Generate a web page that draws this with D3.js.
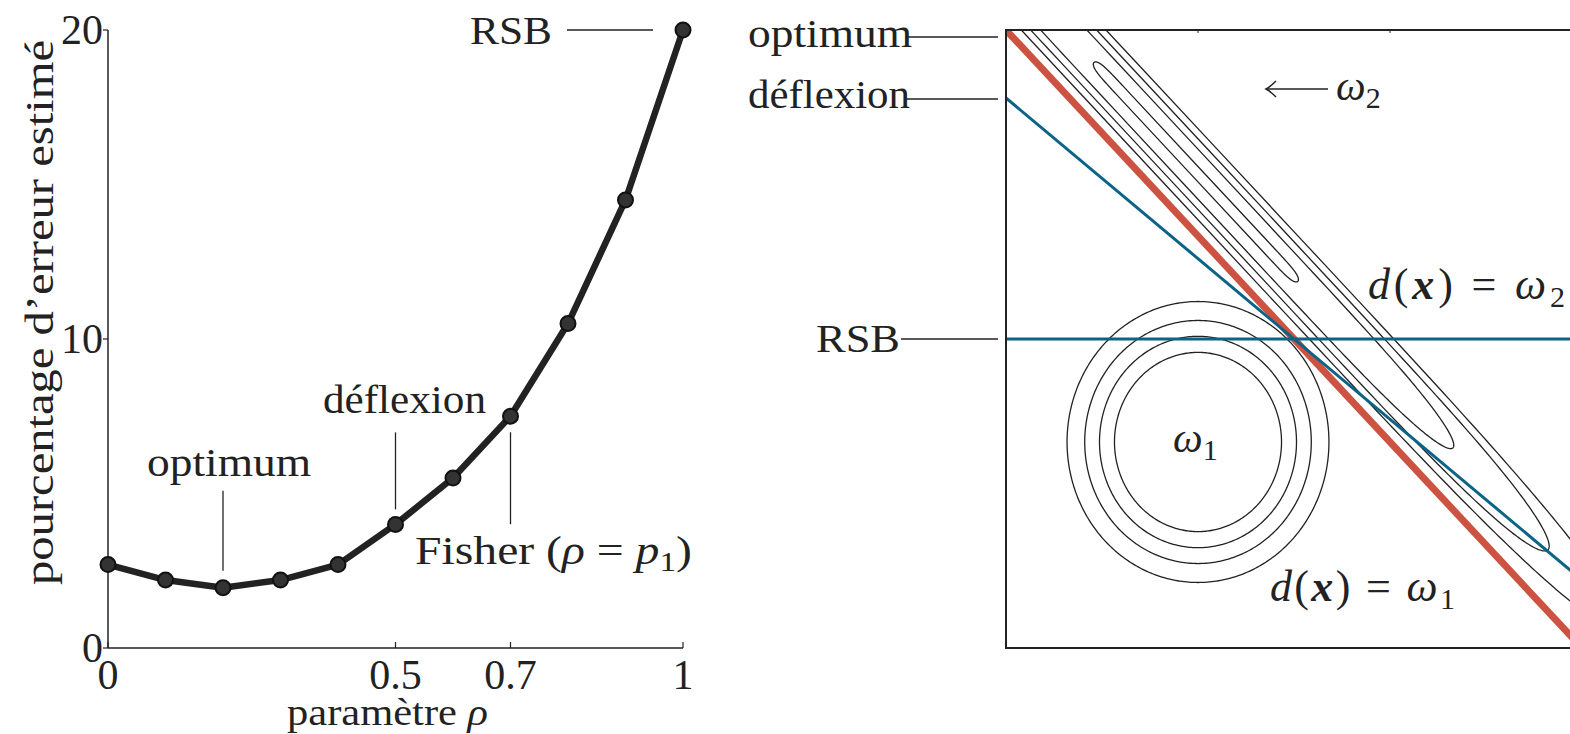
<!DOCTYPE html>
<html>
<head>
<meta charset="utf-8">
<script src="https://cdn.jsdelivr.net/npm/d3@7"></script>
<style>
  body { margin: 0; background: #fff; }
  svg { display: block; }
  text { font-family: "Liberation Serif", "DejaVu Serif", serif; fill: #222; }
</style>
</head>
<body>
<script>
// left panel data
const rho = [0, 0.1, 0.2, 0.3, 0.4, 0.5, 0.6, 0.7, 0.8, 0.9, 1];
const erreur = [2.7, 2.2, 1.95, 2.2, 2.7, 4.0, 5.5, 7.5, 10.5, 14.5, 20];
const xTicks = [0, 0.5, 0.7, 1];
const yTicks = [0, 10, 20];
const marks = [
  { name: "optimum", rho: 0.2 },
  { name: "déflexion", rho: 0.5 },
  { name: "Fisher", rho: 0.7 },
  { name: "RSB", rho: 1 }
];

// right panel data (feature space)
const w1Centre = [1, 1];
const w1Rayons = [0.435, 0.513, 0.59, 0.682];
const w2Axe = 3.30;            // u + v along the long axis
const w2Centres = [0.989, 0.989, 0.989, 0.989];
const w2Longueurs = [0.531, 1.339, 1.834, 2.21];
const w2Largeurs = [0.0375, 0.1215, 0.172, 0.221];
const w2Formes = [20, 6, 6, 5];
const frontieres = [
  { name: "optimum", v0: 3.0, pente: -1 },
  { name: "déflexion", v0: 2.67, pente: -0.78 },
  { name: "RSB", v0: 1.5, pente: 0 }
];

const rouge = "#cc5241", bleu = "#0b6386", encre = "#222";

const svg = d3.select("body").append("svg")
  .attr("width", 1570).attr("height", 734);

function texte(g, xx, yy, taille, largeur, mode) {
  const t = g.append("text").attr("x", xx).attr("y", yy).attr("font-size", taille);
  if (largeur) t.attr("textLength", largeur).attr("lengthAdjust", mode || "spacingAndGlyphs");
  return t;
}

// ---------- left panel ----------
const x = d3.scaleLinear().domain([0, 1]).range([108, 683]);
const y = d3.scaleLinear().domain([0, 20]).range([648, 30]);

const gL = svg.append("g");
gL.append("line").attr("x1", x(0)).attr("x2", x(1)).attr("y1", y(0)).attr("y2", y(0))
  .attr("stroke", encre).attr("stroke-width", 1.5);
gL.append("line").attr("x1", x(0)).attr("x2", x(0)).attr("y1", y(0)).attr("y2", y(20))
  .attr("stroke", encre).attr("stroke-width", 1.5);

gL.selectAll(".xt").data(xTicks).join("line")
  .attr("x1", d => x(d)).attr("x2", d => x(d)).attr("y1", y(0)).attr("y2", y(0) - 6)
  .attr("stroke", encre).attr("stroke-width", 1.2);
gL.selectAll(".xl").data(xTicks).join("text")
  .attr("x", d => x(d)).attr("y", 689).attr("text-anchor", "middle")
  .attr("font-size", 42).text(d => d);

gL.selectAll(".yt").data(yTicks).join("line")
  .attr("x1", x(0) - 5).attr("x2", x(0)).attr("y1", d => y(d)).attr("y2", d => y(d))
  .attr("stroke", encre).attr("stroke-width", 1.2);
gL.selectAll(".yl").data(yTicks).join("text")
  .attr("x", 103).attr("y", d => y(d) + 14).attr("text-anchor", "end")
  .attr("font-size", 42).text(d => d);

texte(gL, 287, 725, 38, 201)
  .call(t => { t.append("tspan").text("paramètre "); t.append("tspan").attr("font-style", "italic").text("ρ"); });
texte(gL, 0, 0, 40, 545).attr("transform", "translate(53,585) rotate(-90)")
  .text("pourcentage d’erreur estimé");

const pts = rho.map((r, i) => [r, erreur[i]]);
gL.append("path").datum(pts)
  .attr("d", d3.line().x(d => x(d[0])).y(d => y(d[1])))
  .attr("fill", "none").attr("stroke", encre).attr("stroke-width", 6.5).attr("stroke-linejoin", "round");
gL.selectAll(".pt").data(pts).join("circle")
  .attr("cx", d => x(d[0])).attr("cy", d => y(d[1])).attr("r", 7.5)
  .attr("fill", "#333").attr("stroke", "#111").attr("stroke-width", 2);

// annotations
const errAt = r => erreur[rho.indexOf(r)];
marks.forEach(m => {
  const px = x(m.rho), py = y(errAt(m.rho));
  if (m.name === "optimum") {
    gL.append("line").attr("x1", px).attr("x2", px).attr("y1", py - 17).attr("y2", py - 97)
      .attr("stroke", encre).attr("stroke-width", 1.3);
    texte(gL, 147, py - 112, 40, 164).text(m.name);
  } else if (m.name === "déflexion") {
    gL.append("line").attr("x1", px).attr("x2", px).attr("y1", py - 15).attr("y2", py - 92)
      .attr("stroke", encre).attr("stroke-width", 1.3);
    texte(gL, 323, py - 111, 40, 163).text(m.name);
  } else if (m.name === "Fisher") {
    gL.append("line").attr("x1", px).attr("x2", px).attr("y1", py + 16).attr("y2", py + 108)
      .attr("stroke", encre).attr("stroke-width", 1.3);
    const t = texte(gL, 415, py + 148, 40, 277);
    t.append("tspan").text("Fisher (");
    t.append("tspan").attr("font-style", "italic").text("ρ");
    t.append("tspan").text(" = ");
    t.append("tspan").attr("font-style", "italic").text("p");
    t.append("tspan").attr("font-size", 28).attr("dy", 7).text("1");
    t.append("tspan").attr("dy", -7).text(")");
  } else {
    gL.append("line").attr("x1", px - 30).attr("x2", px - 116).attr("y1", py).attr("y2", py)
      .attr("stroke", encre).attr("stroke-width", 1.3);
    texte(gL, 470, py + 14, 41, 82).text(m.name);
  }
});

// ---------- right panel ----------
const u = d3.scaleLinear().domain([0, 3]).range([1006, 1582]);
const v = d3.scaleLinear().domain([0, 3]).range([648, 30]);
const uMax = 3.22;

svg.append("clipPath").attr("id", "boite").append("rect")
  .attr("x", u(0)).attr("y", v(3)).attr("width", u(uMax) - u(0)).attr("height", v(0) - v(3));

const gR = svg.append("g").attr("clip-path", "url(#boite)");
const trace = d3.line().x(d => u(d[0])).y(d => v(d[1])).curve(d3.curveLinearClosed);
const angles = d3.range(0, 2 * Math.PI, Math.PI / 180);

// classe omega 1
gR.selectAll(".c1").data(w1Rayons).join("path")
  .attr("d", r => trace(angles.map(a => [w1Centre[0] + r * Math.cos(a), w1Centre[1] + r * Math.sin(a)])))
  .attr("fill", "none").attr("stroke", encre).attr("stroke-width", 1.3);

// classe omega 2 : ellipses allongées
gR.selectAll(".c2").data(w2Longueurs).join("path")
  .attr("d", (a, i) => {
    const uc = w2Centres[i], vc = w2Axe - uc, b = w2Largeurs[i], p = w2Formes[i];
    return trace(angles.map(t => {
      const c = Math.cos(t), s = Math.sin(t);
      const le = a * Math.sign(c) * Math.pow(Math.abs(c), 2 / p);
      const tr = b * s;
      return [uc + le + tr / 2, vc - le + tr / 2];
    }));
  })
  .attr("fill", "none").attr("stroke", encre).attr("stroke-width", 1.3);

// frontières de décision
gR.selectAll(".fr").data(frontieres).join("line")
  .attr("x1", u(0)).attr("y1", d => v(d.v0))
  .attr("x2", u(uMax)).attr("y2", d => v(d.v0 + d.pente * uMax))
  .attr("stroke", d => d.name === "optimum" ? rouge : bleu)
  .attr("stroke-width", d => d.name === "optimum" ? 7 : 3);

svg.append("rect").attr("x", u(0)).attr("y", v(3))
  .attr("width", u(uMax) - u(0)).attr("height", v(0) - v(3))
  .attr("fill", "none").attr("stroke", encre).attr("stroke-width", 2);
svg.selectAll(".tt").data([1, 2]).join("line")
  .attr("x1", d => u(d)).attr("x2", d => u(d)).attr("y1", v(3)).attr("y2", v(3) + 3)
  .attr("stroke", encre).attr("stroke-width", 1);

// étiquettes des frontières
const etiq = {
  "optimum": { ligne: 37, base: 47, x0: 748, l: 164, x1: 906 },
  "déflexion": { ligne: 99, base: 108, x0: 748, l: 162, x1: 906 },
  "RSB": { ligne: v(1.5), base: v(1.5) + 13, x0: 816, l: 84, x1: 901 }
};
frontieres.forEach(f => {
  const e = etiq[f.name];
  svg.append("line").attr("x1", e.x1).attr("x2", u(0) - 8).attr("y1", e.ligne).attr("y2", e.ligne)
    .attr("stroke", encre).attr("stroke-width", 1.3);
  texte(svg, e.x0, e.base, 40, e.l).text(f.name);
});

// textes mathématiques
function dx(g, xx, yy, indice, largeur) {
  const t = texte(g, xx, yy, 44, largeur, "spacing");
  t.append("tspan").attr("font-style", "italic").text("d");
  t.append("tspan").text("(");
  t.append("tspan").attr("font-style", "italic").attr("font-weight", "bold").text("x");
  t.append("tspan").text(") = ");
  t.append("tspan").attr("font-style", "italic").text("ω");
  t.append("tspan").attr("font-size", 30).attr("dy", 8).text(indice);
}
dx(svg, 1368, 299, "2", 197);
dx(svg, 1270, 601, "1", 185);

const om1 = texte(svg, u(w1Centre[0]) - 25, v(w1Centre[1]) + 10, 42);
om1.append("tspan").attr("font-style", "italic").text("ω");
om1.append("tspan").attr("font-size", 30).attr("dy", 8).text("1");

svg.append("line").attr("x1", 1268).attr("x2", 1328).attr("y1", 89).attr("y2", 89)
  .attr("stroke", encre).attr("stroke-width", 1.5);
svg.append("path").attr("d", "M1276,81 Q1270,87 1266,89 Q1270,91 1276,97")
  .attr("fill", "none").attr("stroke", encre).attr("stroke-width", 1.5);
const om2 = texte(svg, 1336, 100, 42);
om2.append("tspan").attr("font-style", "italic").text("ω");
om2.append("tspan").attr("font-size", 30).attr("dy", 8).text("2");
</script>
</body>
</html>
